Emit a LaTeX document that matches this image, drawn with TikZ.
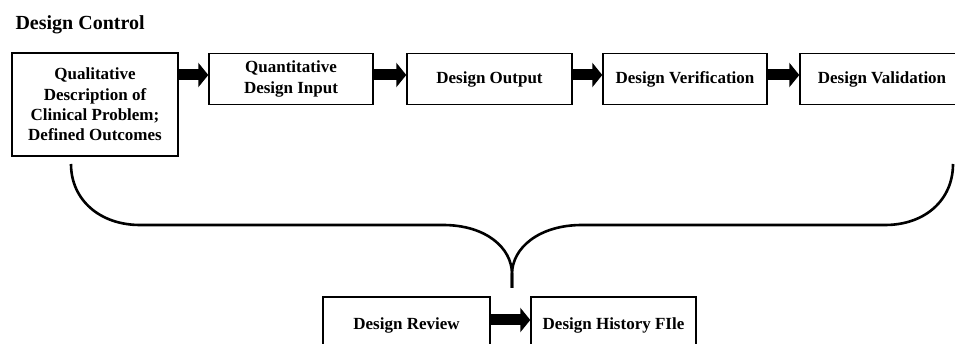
\documentclass[tikz,border=0pt]{standalone}
\usepackage{fontspec}
\setmainfont{Liberation Serif}
\usetikzlibrary{arrows.meta,calc}
\begin{document}
\begin{tikzpicture}[x=1pt,y=-1pt,
  box/.style={draw,line width=1.4pt,inner sep=0pt,align=center,
    minimum width=164pt,minimum height=51pt,
    font=\fontsize{17}{20.4}\selectfont\bfseries},
  blockarrow/.style={line width=11pt,-{Triangle[length=10pt,width=24pt]}},
  bracepath/.style={line width=2.6pt}]
\useasboundingbox (0,0) rectangle (955,344);
\node[anchor=base west,font=\fontsize{20}{24}\selectfont\bfseries] (title) at (12,30) {Design Control};
\node[box,minimum width=166pt,minimum height=103pt] (b1) at (95,104.5) {Qualitative\\Description of\\Clinical Problem;\\Defined Outcomes};
\node[box] (b2) at (291,79) {Quantitative\\Design Input};
\node[box,minimum width=165pt] (b3) at (489.5,79) {Design Output};
\node[box] (b4) at (685,79) {Design Verification};
\node[box] (b5) at (882,79) {Design Validation};
\node[box,minimum width=167pt,minimum height=56pt] (r1) at (406.5,325) {Design Review};
\node[box,minimum width=165pt,minimum height=56pt] (r2) at (613.5,325) {Design History FIle};
\draw[blockarrow] ($(b1.east|-b2.west)+(0,-4)$) -- ($(b2.west)+(0,-4)$);
\draw[blockarrow] ($(b2.east)+(0,-4)$) -- ($(b3.west)+(0,-4)$);
\draw[blockarrow] ($(b3.east)+(0,-4)$) -- ($(b4.west)+(0,-4)$);
\draw[blockarrow] ($(b4.east)+(0,-4)$) -- ($(b5.west)+(0,-4)$);
\draw[blockarrow] ($(r1.east)+(0,-5)$) -- ($(r2.west)+(0,-5)$);
\coordinate (bl) at (71,164);
\coordinate (br) at (953,164);
\coordinate (tip) at (512,288);
\draw[bracepath] (bl) .. controls (71,200) and (100,225) .. (140,225) -- (443,225)
  .. controls (486,225) and (512,248) .. (512,274) -- (tip);
\draw[bracepath] (tip) -- (512,274) .. controls (512,248) and (539,225) .. (582,225)
  -- (885,225) .. controls (925,225) and (953,200) .. (br);
\end{tikzpicture}
\end{document}
